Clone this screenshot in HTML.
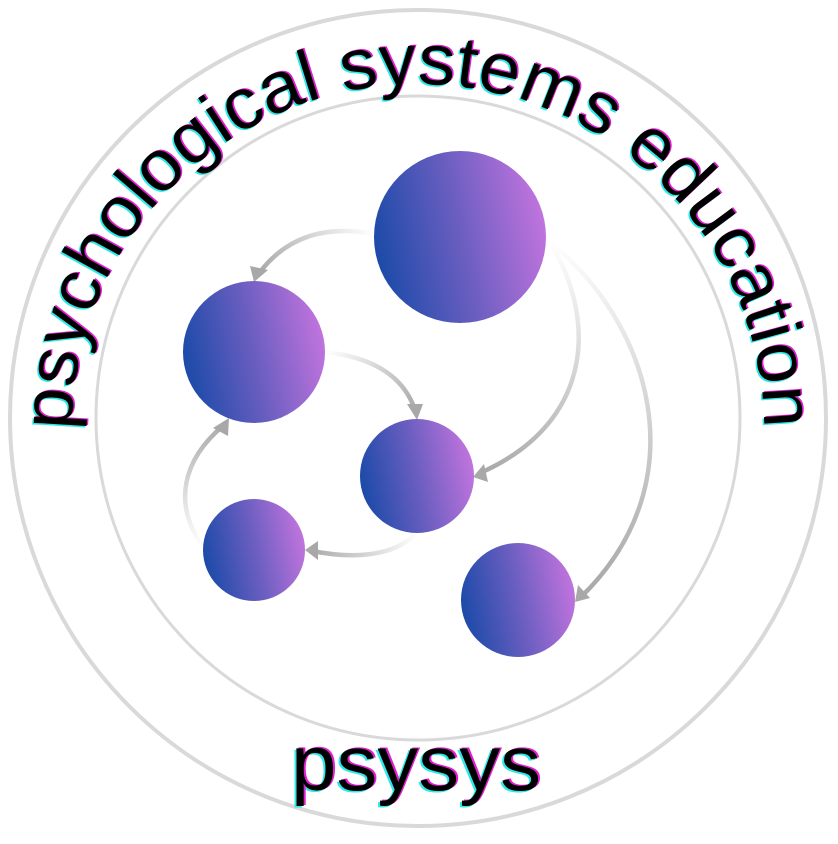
<!DOCTYPE html>
<html><head><meta charset="utf-8"><style>html,body{margin:0;padding:0;background:#fff}svg{display:block}</style></head>
<body>
<svg width="838" height="844" viewBox="0 0 838 844" xmlns="http://www.w3.org/2000/svg">
<defs>
<linearGradient id="g" x1="0" y1="0.6" x2="1" y2="0.4">
<stop offset="0" stop-color="#1a4aa8"/><stop offset="0.5" stop-color="#6a5ec0"/><stop offset="1" stop-color="#c274de"/>
</linearGradient>
<linearGradient id="a1" gradientUnits="userSpaceOnUse" x1="374" y1="234" x2="258" y2="275"><stop offset="0" stop-color="#fff"/><stop offset="1" stop-color="#a8a8a8"/></linearGradient>
<linearGradient id="a2" gradientUnits="userSpaceOnUse" x1="325" y1="352" x2="415" y2="415"><stop offset="0" stop-color="#fff"/><stop offset="1" stop-color="#a8a8a8"/></linearGradient>
<linearGradient id="a3" gradientUnits="userSpaceOnUse" x1="547" y1="238" x2="478" y2="474"><stop offset="0" stop-color="#fff"/><stop offset="1" stop-color="#a8a8a8"/></linearGradient>
<linearGradient id="a4" gradientUnits="userSpaceOnUse" x1="547" y1="240" x2="580" y2="598"><stop offset="0" stop-color="#fff"/><stop offset="1" stop-color="#a8a8a8"/></linearGradient>
<linearGradient id="a5" gradientUnits="userSpaceOnUse" x1="417" y1="533" x2="308" y2="550"><stop offset="0" stop-color="#fff"/><stop offset="1" stop-color="#a8a8a8"/></linearGradient>
<linearGradient id="a6" gradientUnits="userSpaceOnUse" x1="204" y1="548" x2="226" y2="422"><stop offset="0" stop-color="#fff"/><stop offset="1" stop-color="#a8a8a8"/></linearGradient>
<path id="top" d="M 72,430 A 346 346 0 0 1 764,430"/>
</defs>
<circle cx="418" cy="418" r="408" fill="none" stroke="#d9d9d9" stroke-width="4"/>
<circle cx="418" cy="418" r="322" fill="none" stroke="#d9d9d9" stroke-width="3"/>

<g fill="none" stroke-width="4.5" stroke-linecap="round">
<path d="M374,234 Q300,220 260,272" stroke="url(#a1)"/>
<path d="M325,352 Q398,360 415,410" stroke="url(#a2)"/>
<path d="M547,238 C595,310 600,420 480,473" stroke="url(#a3)"/>
<path d="M547,240 C650,320 700,480 582,596" stroke="url(#a4)"/>
<path d="M417,533 Q385,565 312,551" stroke="url(#a5)"/>
<path d="M204,548 C172,505 182,460 224,425" stroke="url(#a6)"/>
</g>
<g fill="#a8a8a8">
<polygon points="254,282 250,266 268,270"/>
<polygon points="417,420 407,404 423,404"/>
<polygon points="473,477 484,464 488,482"/>
<polygon points="575,602 578,585 590,598"/>
<polygon points="305,550 318,541 318,560"/>
<polygon points="229,418 228,436 213,428"/>
</g>

<circle cx="460" cy="237" r="86" fill="url(#g)"/>
<circle cx="254" cy="352" r="71" fill="url(#g)"/>
<circle cx="417" cy="476" r="57" fill="url(#g)"/>
<circle cx="254" cy="550" r="51" fill="url(#g)"/>
<circle cx="518" cy="600" r="57" fill="url(#g)"/>

<g font-family="Liberation Sans, sans-serif" font-size="72">
<text fill="#30e8e8" transform="translate(-1.5,1.5)"><textPath href="#top" textLength="1085" lengthAdjust="spacingAndGlyphs">psychological systems education</textPath></text>
<text fill="#e020d0" transform="translate(1.5,-1)"><textPath href="#top" textLength="1085" lengthAdjust="spacingAndGlyphs">psychological systems education</textPath></text>
<text fill="#000"><textPath href="#top" textLength="1085" lengthAdjust="spacingAndGlyphs">psychological systems education</textPath></text>
</g>
<g font-family="Liberation Sans, sans-serif" font-size="78">
<text x="291" y="790" fill="#30e8e8" transform="translate(-2,1.5)" textLength="250" lengthAdjust="spacingAndGlyphs">psysys</text>
<text x="291" y="790" fill="#e020d0" transform="translate(2,-1)" textLength="250" lengthAdjust="spacingAndGlyphs">psysys</text>
<text x="291" y="790" fill="#000" textLength="250" lengthAdjust="spacingAndGlyphs">psysys</text>
</g>
</svg>
</body></html>
